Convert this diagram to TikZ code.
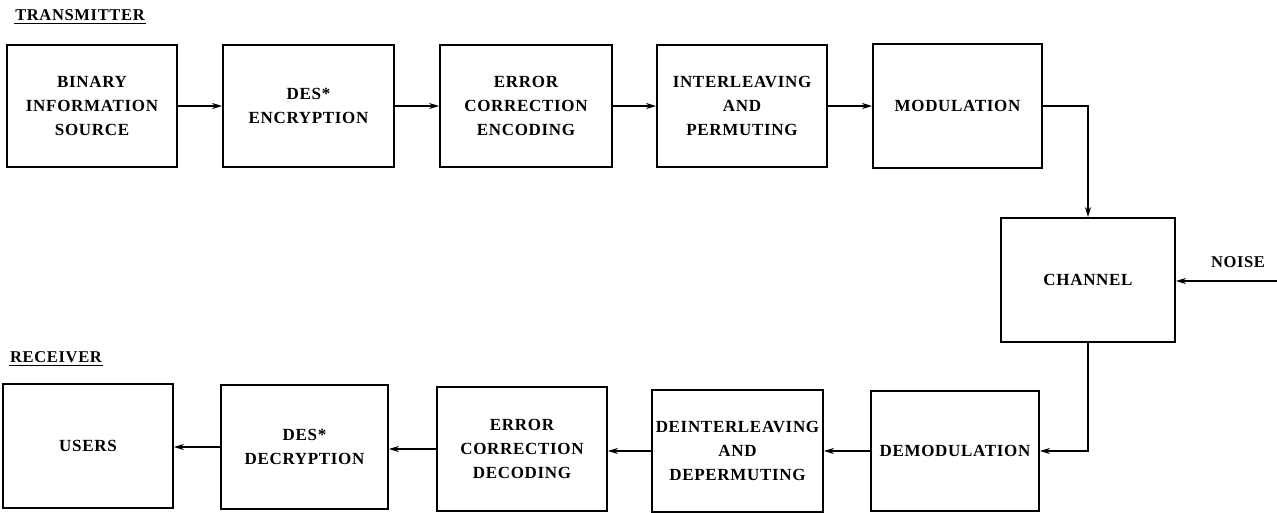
\documentclass[tikz,border=0pt]{standalone}
\usepackage{fontspec}
\setmainfont{Liberation Serif}[LetterSpace=4]
\usetikzlibrary{arrows.meta}
\begin{document}
\begin{tikzpicture}[x=1pt,y=-1pt,
  blk/.style={draw, line width=1.8pt, align=center, inner sep=0pt,
    font=\bfseries\fontsize{17}{24}\selectfont},
  lbl/.style={inner xsep=1pt, inner ysep=3pt, font=\bfseries\fontsize{16.5}{20}\selectfont},
  conn/.style={line width=1.8pt, -{Stealth[length=10pt,width=6pt]}},
  ul/.style={line width=1.4pt}]
\useasboundingbox (0,0) rectangle (1277,512);
% labels
\node[lbl] (tx) at (80,15) {TRANSMITTER};
\draw[ul] (tx.south west) -- (tx.south east);
\node[lbl] (rx) at (56,357) {RECEIVER};
\draw[ul] (rx.south west) -- (rx.south east);
% top row
\node[blk, minimum width=170, minimum height=122] (b1) at (92,106) {BINARY\\INFORMATION\\SOURCE};
\node[blk, minimum width=171, minimum height=122] (b2) at (308.5,106) {DES*\\ENCRYPTION};
\node[blk, minimum width=172, minimum height=122] (b3) at (526,106) {ERROR\\CORRECTION\\ENCODING};
\node[blk, minimum width=170, minimum height=122] (b4) at (742,106) {INTERLEAVING\\AND\\PERMUTING};
\node[blk, minimum width=169, minimum height=124] (b5) at (957.5,106) {MODULATION};
% channel
\node[blk, minimum width=174, minimum height=124] (ch) at (1088,280) {CHANNEL};
\node[font=\bfseries\fontsize{16.5}{20}\selectfont] (nz) at (1238,262) {NOISE};
\coordinate (noise) at (1277,281);
% bottom row
\node[blk, minimum width=170, minimum height=124] (u) at (88,446) {USERS};
\node[blk, minimum width=167, minimum height=124] (d) at (304.5,447) {DES*\\DECRYPTION};
\node[blk, minimum width=170, minimum height=124] (e) at (522,449) {ERROR\\CORRECTION\\DECODING};
\node[blk, minimum width=171, minimum height=122] (di) at (737.5,451) {DEINTERLEAVING\\AND\\DEPERMUTING};
\node[blk, minimum width=168, minimum height=120] (dm) at (955,451) {DEMODULATION};
% connectors
\draw[conn] (b1.east) -- (b1.east -| b2.west);
\draw[conn] (b2.east) -- (b2.east -| b3.west);
\draw[conn] (b3.east) -- (b3.east -| b4.west);
\draw[conn] (b4.east) -- (b4.east -| b5.west);
\draw[conn] (b5.east) -| (ch.north);
\draw[conn] (noise) -- (noise -| ch.east);
\draw[conn] (ch.south) |- (dm.east);
\draw[conn] (dm.west) -- (dm.west -| di.east);
\draw[conn] (di.west) -- (di.west -| e.east);
\draw[conn] (e.west) -- (e.west -| d.east);
\draw[conn] (d.west) -- (d.west -| u.east);
\end{tikzpicture}
\end{document}
